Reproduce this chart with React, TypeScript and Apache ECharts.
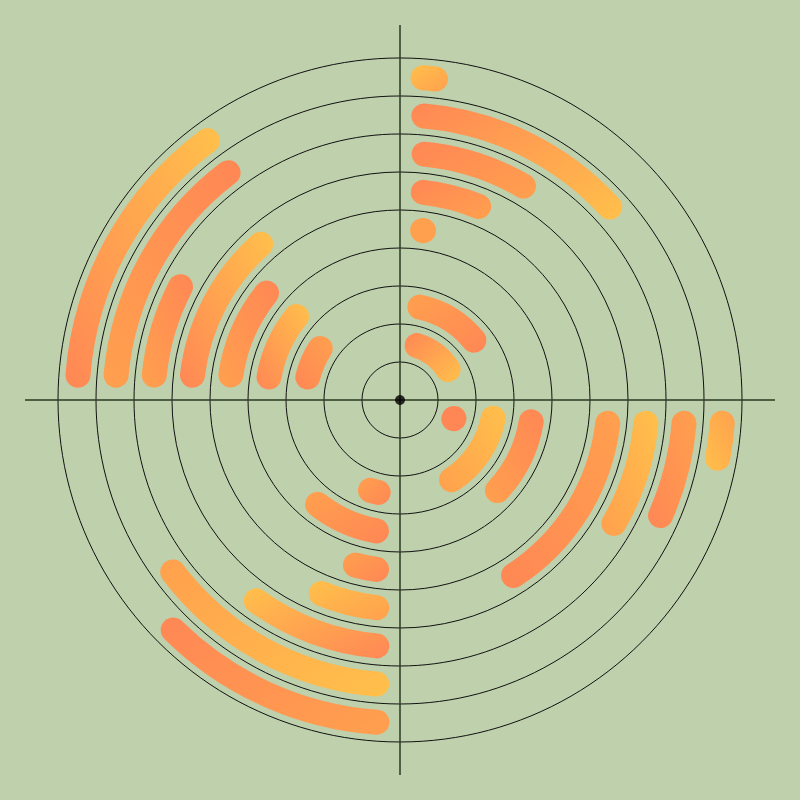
import React, { useEffect, useRef } from 'react';
import * as echarts from 'echarts';

// Rings (radius categories), inner to outer
const rings = ['0', '1', '2', '3', '4', '5', '6', '7', '8'];

// Colour keys
const R = '#ff8755';
const O = '#ffa04e';
const Y = '#ffc04b';

// Quadrant 1 (top-right): start/end angle (deg, clockwise from 12 o'clock)
const q1Start = [null, 17.5, 12.1, null, 7.6, 6.4, 5.6, 4.8, 4.1];
const q1End = [null, 57.6, 51.0, null, 7.9, 22.1, 30.0, 47.4, 6.3];
const q1From = [null, R, O, null, O, R, R, R, Y];
const q1To = [null, Y, R, null, O, O, O, Y, O];

// Quadrant 2 (bottom-right)
const q2Start = [null, 108.9, 101.1, 99.4, null, 96.4, 95.4, 94.7, 94.1];
const q2End = [null, 109.2, 147.1, 132.9, null, 147.1, 120.0, 113.9, 100.4];
const q2From = [null, R, Y, R, null, O, Y, O, O];
const q2To = [null, R, O, O, null, R, O, R, Y];

// Quadrant 3 (bottom-left)
const q3Start = [null, null, 193.3, 190.2, 187.9, 186.4, 185.4, 184.7, 184.1];
const q3End = [null, null, 198.1, 218.3, 195.1, 202.1, 215.6, 232.9, 224.6];
const q3From = [null, null, R, R, R, O, R, Y, O];
const q3To = [null, null, O, O, O, Y, Y, O, R];

// Quadrant 4 (top-left)
const q4Start = [null, null, 284.0, 280.0, 278.4, 276.8, 275.8, 275.0, 274.4];
const q4End = [null, null, 302.9, 308.9, 308.7, 318.2, 297.3, 322.9, 323.4];
const q4From = [null, null, R, R, O, R, O, O, R];
const q4To = [null, null, O, Y, R, Y, R, R, Y];

const quadrants = [
  { id: 'q1', start: q1Start, end: q1End, from: q1From, to: q1To, dir: [0, 0, 1, 1] },
  { id: 'q2', start: q2Start, end: q2End, from: q2From, to: q2To, dir: [1, 0, 0, 1] },
  { id: 'q3', start: q3Start, end: q3End, from: q3From, to: q3To, dir: [1, 1, 0, 0] },
  { id: 'q4', start: q4Start, end: q4End, from: q4From, to: q4To, dir: [0, 1, 1, 0] },
];

export default function App() {
  const ref = useRef<HTMLDivElement>(null);

  useEffect(() => {
    if (!ref.current) return;
    const chart = echarts.init(ref.current, undefined, { renderer: 'svg' });

    const series: any[] = [];
    const prevEnd = rings.map(() => 0);
    quadrants.forEach((q) => {
      const gapData = q.start.map((s, i) => {
        const e = q.end[i];
        if (s == null || e == null) return '-';
        return s - prevEnd[i];
      });
      const arcData = q.start.map((s, i) => {
        const e = q.end[i];
        if (s == null || e == null) return '-';
        prevEnd[i] = e;
        return {
          value: e - s,
          itemStyle: {
            color: new echarts.graphic.LinearGradient(q.dir[0], q.dir[1], q.dir[2], q.dir[3], [
              { offset: 0, color: q.from[i] as string },
              { offset: 1, color: q.to[i] as string },
            ]),
          },
        };
      });
      series.push({
        type: 'bar',
        coordinateSystem: 'polar',
        polarIndex: 1,
        stack: 'all',
        silent: true,
        barWidth: 25,
        itemStyle: { color: 'rgba(0,0,0,0)' },
        emphasis: { disabled: true },
        data: gapData,
      });
      series.push({
        type: 'bar',
        coordinateSystem: 'polar',
        polarIndex: 1,
        stack: 'all',
        roundCap: true,
        silent: true,
        barWidth: 25,
        emphasis: { disabled: true },
        data: arcData,
      });
    });

    series.push({
      type: 'scatter',
      coordinateSystem: 'polar',
      polarIndex: 0,
      symbolSize: 10,
      silent: true,
      itemStyle: { color: '#000' },
      data: [[0, 0]],
      z: 10,
    });

    chart.setOption({
      animation: false,
      backgroundColor: '#bed0ac',
      polar: [
        { center: ['50%', '50%'], radius: 375 },
        { center: ['50%', '50%'], radius: 342 },
      ],
      angleAxis: [
        {
          polarIndex: 0,
          type: 'value',
          min: 0,
          max: 360,
          interval: 90,
          startAngle: 90,
          clockwise: true,
          axisLine: { show: false },
          axisTick: { show: false },
          axisLabel: { show: false },
          splitLine: { show: true, lineStyle: { color: '#2c3a22', width: 1.5 } },
          z: 5,
        },
        {
          polarIndex: 1,
          type: 'value',
          min: 0,
          max: 360,
          startAngle: 90,
          clockwise: true,
          axisLine: { show: false },
          axisTick: { show: false },
          axisLabel: { show: false },
          splitLine: { show: false },
        },
      ],
      radiusAxis: [
        {
          polarIndex: 0,
          type: 'value',
          min: 0,
          max: 1,
          axisLine: { show: false },
          axisTick: { show: false },
          axisLabel: { show: false },
          splitLine: { show: false },
        },
        {
          polarIndex: 1,
          type: 'category',
          data: rings,
          axisLine: { show: false },
          axisTick: { show: false },
          axisLabel: { show: false },
          splitLine: { show: true, lineStyle: { color: '#111', width: 1 } },
        },
      ],
      series,
    });

    return () => chart.dispose();
  }, []);

  return (
    <div
      ref={ref}
      style={{ position: 'absolute', left: 0, top: 0, width: 800, height: 800 }}
    />
  );
}
